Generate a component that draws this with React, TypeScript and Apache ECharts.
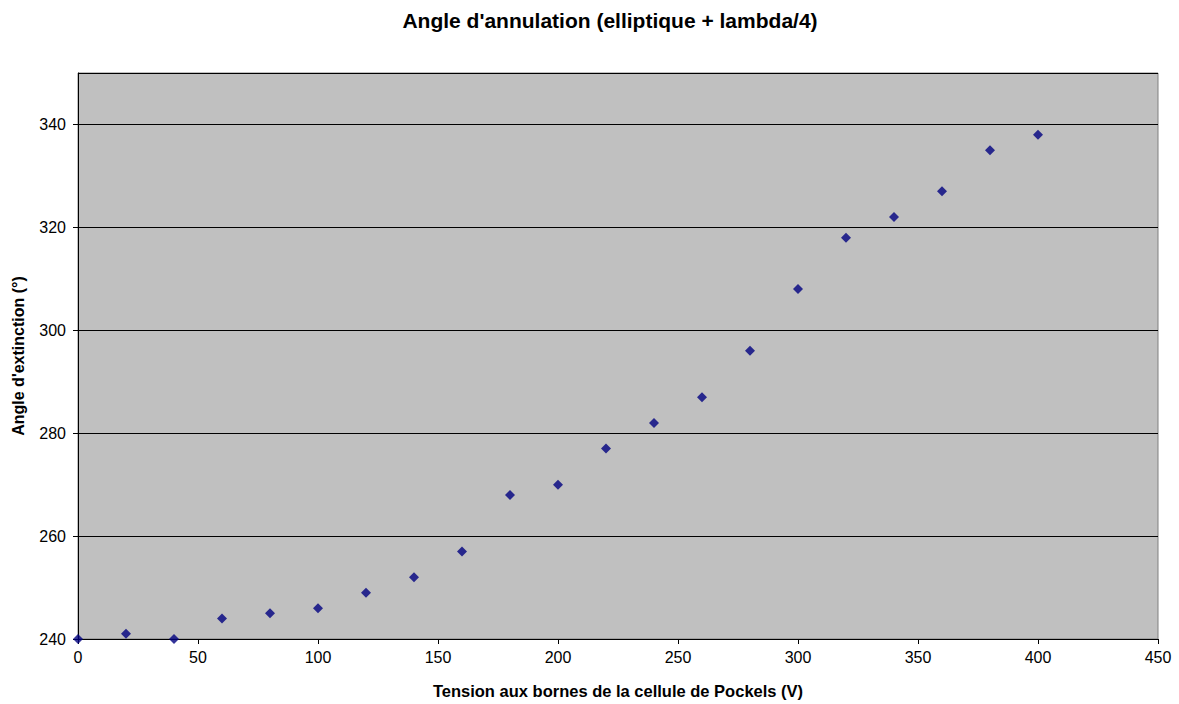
import React, { useEffect, useRef } from "react";
import * as echarts from "echarts";

const tensions = [0, 20, 40, 60, 80, 100, 120, 140, 160, 180, 200, 220, 240, 260, 280, 300, 320, 340, 360, 380, 400];
const angles = [240, 241, 240, 244, 245, 246, 249, 252, 257, 268, 270, 277, 282, 287, 296, 308, 318, 322, 327, 335, 338];

const titleText = "Angle d'annulation (elliptique + lambda/4)";
const xName = "Tension aux bornes de la cellule de Pockels (V)";
const yName = "Angle d'extinction (°)";

export default function App() {
  const ref = useRef<HTMLDivElement>(null);
  useEffect(() => {
    if (!ref.current) return;
    const chart = echarts.init(ref.current, undefined, { renderer: "svg" });
    const font = "Liberation Sans, Arial, sans-serif";
    chart.setOption({
      animation: false,
      backgroundColor: "#ffffff",
      title: {
        text: titleText,
        left: 605,
        top: 5,
        textAlign: "center",
        textStyle: { fontFamily: font, fontSize: 21, fontWeight: "bold", color: "#000" },
      },
      grid: {
        left: 78,
        right: 21,
        top: 73,
        bottom: 64,
        show: true,
        backgroundColor: "#C0C0C0",
        borderColor: "#808080",
        borderWidth: 1,
      },
      xAxis: {
        type: "value",
        min: 0,
        max: 450,
        interval: 50,
        name: xName,
        nameLocation: "middle",
        nameGap: 43,
        nameTextStyle: { fontFamily: font, fontSize: 16.5, fontWeight: "bold", color: "#000" },
        axisLine: { show: true, onZero: false, lineStyle: { color: "#000", width: 1 } },
        axisTick: { show: true, length: 5, inside: false, lineStyle: { color: "#000" } },
        axisLabel: { fontFamily: font, fontSize: 16, color: "#000", margin: 10 },
        splitLine: { show: false },
      },
      yAxis: {
        type: "value",
        min: 240,
        max: 350,
        interval: 20,
        name: yName,
        nameLocation: "middle",
        nameGap: 52,
        nameTextStyle: { fontFamily: font, fontSize: 16, fontWeight: "bold", color: "#000" },
        axisLine: { show: true, lineStyle: { color: "#000", width: 1 } },
        axisTick: { show: true, length: 5, inside: false, lineStyle: { color: "#000" } },
        axisLabel: { fontFamily: font, fontSize: 16, color: "#000", margin: 12, showMaxLabel: false },
        splitLine: { show: true, lineStyle: { color: "#000", width: 1 } },
      },
      series: [
        {
          type: "scatter",
          data: tensions.map((t, i) => [t, angles[i]]),
          symbol: "diamond",
          symbolSize: 10,
          itemStyle: { color: "#000080" },
          clip: false,
        },
      ],
    });
    return () => chart.dispose();
  }, []);
  return (
    <div
      ref={ref}
      style={{ position: "absolute", left: 0, top: 0, width: 1179, height: 704 }}
    />
  );
}
